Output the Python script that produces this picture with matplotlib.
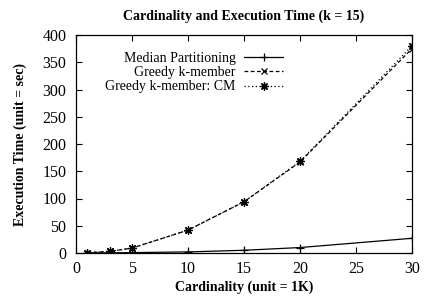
import matplotlib
matplotlib.use("Agg")
import matplotlib.pyplot as plt

x = [1, 3, 5, 10, 15, 20, 30]
median_part = [0.1, 0.3, 0.7, 2, 5, 10, 27]
greedy = [0.5, 3, 9, 42, 94, 167, 375]
greedy_cm = [0.5, 3, 9, 42, 94, 168, 380]
xticks = [0, 5, 10, 15, 20, 25, 30]
yticks = [0, 50, 100, 150, 200, 250, 300, 350, 400]

plt.rcParams['font.family'] = ['Liberation Serif', 'DejaVu Serif']
plt.rcParams['font.size'] = 10

fig = plt.figure(figsize=(4.26, 2.96), dpi=100)
ax = fig.add_axes([76/426, 1 - 253/296, 336/426, 218/296])

ax.plot(x, median_part, color='black', lw=0.9, marker='+', ms=6, mew=0.9,
        label='Median Partitioning')
ax.plot(x, greedy, color='black', lw=0.9, ls=(0, (3, 2)), marker='x', ms=5, mew=0.9,
        label='Greedy k-member')
ax.plot(x, greedy_cm, color='black', lw=0.9, ls=(0, (1, 2)), marker=(8, 2, 0), ms=6, mew=0.9,
        label='Greedy k-member: CM')

ax.set_xlim(0, 30)
ax.set_ylim(0, 400)
ax.set_xticks(xticks)
ax.set_yticks(yticks)
ax.tick_params(direction='in', top=True, right=True, length=4, width=0.8, labelsize=11.5)
ax.tick_params(axis='y', pad=7)
ax.tick_params(axis='x', pad=6)
for s in ax.spines.values():
    s.set_linewidth(0.9)

ax.set_title('Cardinality and Execution Time (k = 15)', fontweight='bold', fontsize=10, pad=11)
ax.set_xlabel('Cardinality (unit = 1K)', fontweight='bold', fontsize=10, labelpad=2)
ax.set_ylabel('Execution Time (unit = sec)', fontweight='bold', fontsize=10, labelpad=11)

leg = ax.legend(loc='upper right', bbox_to_anchor=(0.616, 0.921), frameon=False, markerfirst=False,
                handlelength=2.8, handletextpad=0.6, labelspacing=0.08, borderaxespad=0,
                borderpad=0, fontsize=10)
leg._legend_box.align = 'right'
for t in leg.get_texts():
    t.set_ha('right')

fig.savefig('out.png', dpi=100)
